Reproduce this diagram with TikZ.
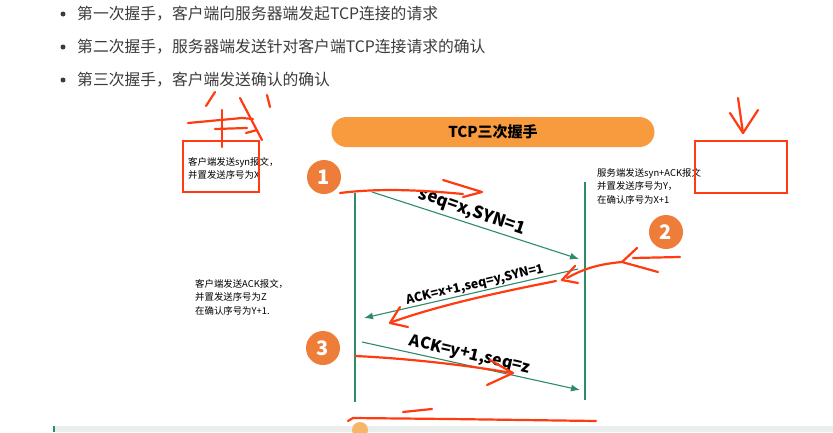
\documentclass[tikz,border=0pt]{standalone}
\usepackage{fontspec}
\setmainfont{Noto Sans CJK SC}
\usetikzlibrary{arrows.meta}
\definecolor{tcpgreen}{HTML}{2E8B6B}
\definecolor{orangec}{HTML}{EF7D3A}
\definecolor{bannerc}{HTML}{F89B3F}
\definecolor{redpen}{HTML}{FF3B12}
\definecolor{bullettxt}{HTML}{3C3C3C}
\definecolor{bandc}{HTML}{E8EFEC}
\definecolor{bandedge}{HTML}{2E8B7B}
\definecolor{dotc}{HTML}{F7B56A}
\begin{document}
\begin{tikzpicture}[x=1pt,y=-1pt,
  bullettext/.style={anchor=west,inner sep=0pt,text=bullettxt,font=\fontsize{15.8}{18}\selectfont},
  bulletdot/.style={circle,fill=bullettxt,inner sep=0pt,minimum size=5pt},
  banner/.style={fill=bannerc,rounded corners=15pt,minimum width=323pt,minimum height=30pt,inner sep=0pt,font=\bfseries\fontsize{15}{18}\selectfont},
  numc/.style={circle,fill=orangec,text=white,inner sep=0pt,minimum size=34pt,font=\bfseries\fontsize{20}{22}\selectfont},
  note/.style={anchor=north west,inner sep=0pt,align=left,font=\fontsize{9.4}{13.5}\selectfont},
  lifeline/.style={draw=tcpgreen,line width=1.2pt},
  msg/.style={draw=tcpgreen,line width=1.1pt,-{Latex[length=9pt,width=7pt]}},
  lbl/.style={inner sep=0pt,font=\bfseries},
  pen/.style={draw=redpen,line width=2.2pt,line cap=round,line join=round},
  penbox/.style={draw=redpen,line width=2pt}
]
\useasboundingbox (0,0) rectangle (833,432);
\fill[white] (0,0) rectangle (833,432);

% bullets
\node[bulletdot] (b1) at (63,14) {};
\node[bulletdot] (b2) at (63,47) {};
\node[bulletdot] (b3) at (63,80) {};
\node[bullettext] (t1) at (77,14) {第一次握手，客户端向服务器端发起TCP连接的请求};
\node[bullettext] (t2) at (77,47) {第二次握手，服务器端发送针对客户端TCP连接请求的确认};
\node[bullettext] (t3) at (77,80) {第三次握手，客户端发送确认的确认};

% banner
\node[banner] (title) at (493,132) {TCP三次握手};

% numbered circles
\node[numc] (n1) at (324,177) {1};
\node[numc] (n2) at (666,232) {2};
\node[numc] (n3) at (323,348) {3};

% lifelines
\coordinate (L1) at (355,193);
\coordinate (L2) at (355,402);
\coordinate (R1) at (585,182);
\coordinate (R2) at (585,400);
\draw[lifeline] (L1) -- (L2);
\draw[lifeline] (R1) -- (R2);

% messages
\coordinate (a1s) at (372,192);
\coordinate (a1e) at (579,259);
\coordinate (a2s) at (578,269);
\coordinate (a2e) at (364,318);
\coordinate (a3s) at (362,342);
\coordinate (a3e) at (580,390);
\draw[msg] (a1s) -- (a1e);
\draw[msg] (a2s) -- (a2e);
\draw[msg] (a3s) -- (a3e);
\node[lbl,rotate=-19,font=\bfseries\fontsize{17}{20}\selectfont] (m1) at (472,212) {seq=x,SYN=1};
\node[lbl,rotate=13,font=\bfseries\fontsize{12.5}{15}\selectfont] (m2) at (475,285) {ACK=x+1,seq=y,SYN=1};
\node[lbl,rotate=-13,font=\bfseries\fontsize{16}{19}\selectfont] (m3) at (470,355) {ACK=y+1,seq=z};

% notes
\node[note] (nl1) at (188,157) {客户端发送syn报文，\\并置发送序号为X};
\node[note] (nr) at (597,168) {服务端发送syn+ACK报文\\并置发送序号为Y，\\在确认序号为X+1};
\node[note] (nl2) at (195,279) {客户端发送ACK报文，\\并置发送序号为Z\\在确认序号为Y+1.};

% bottom band
\fill[bandc] (53,426) rectangle (833,432);
\fill[bandedge] (53,426) rectangle (55,432);
\fill[dotc] (360,430) circle (8);

% red pen annotations
\draw[penbox] (183,141) rectangle (259,192);
\draw[penbox] (695,141) rectangle (787,193);
\draw[pen] (215,92) -- (206,106);
\draw[pen] (267,95) -- (270,107);
\draw[pen] (188,123) -- (242,118) -- (253,119);
\draw[pen] (222,110) -- (222,147);
\draw[pen] (215,129) -- (247,128);
\draw[pen] (240,98) -- (262,140);
\draw[pen] (246,133) -- (257,130);
\draw[pen] (738,98) -- (743,133);
\draw[pen] (730,113) -- (743,133) -- (758,110);
\draw[pen] (340,193) .. controls (380,188) and (420,190) .. (463,194);
\draw[pen] (443,180) -- (482,192) -- (463,197);
\draw[pen] (680,257) -- (633,258);
\draw[pen] (637,248) -- (622,262) -- (658,272);
\draw[pen] (622,262) .. controls (600,264) and (585,268) .. (567,278);
\draw[pen] (575,266) -- (562,280) -- (578,283);
\draw[pen] (556,281) .. controls (500,292) and (440,305) .. (392,322);
\draw[pen] (400,307) -- (390,323) -- (408,327);
\draw[pen] (355,356) .. controls (400,358) and (460,364) .. (512,373);
\draw[pen] (490,360) -- (513,373) -- (487,385);
\draw[pen] (403,412) -- (432,409);
\draw[pen] (348,421) -- (353,418) -- (450,419) -- (596,421);
\end{tikzpicture}
\end{document}
